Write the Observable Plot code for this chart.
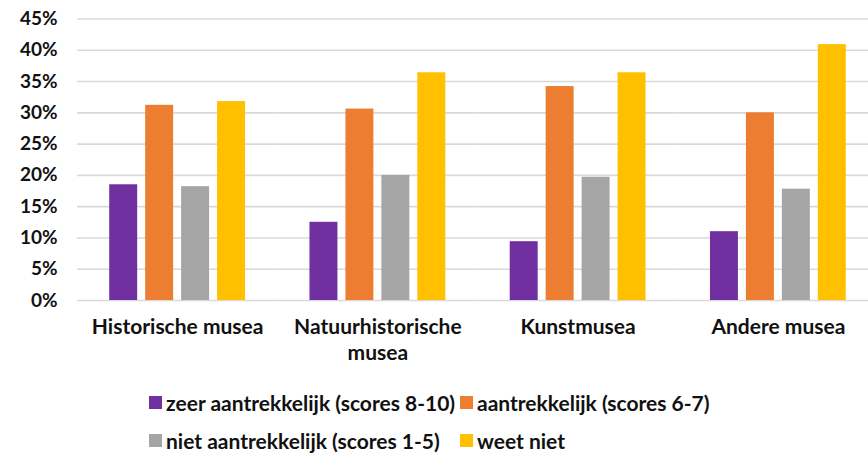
<!DOCTYPE html>
<html>
<head>
<meta charset="utf-8">
<script src="https://cdn.jsdelivr.net/npm/d3@7"></script>
<script src="https://cdn.jsdelivr.net/npm/@observablehq/plot@0.6"></script>
<style>
  body { margin: 0; background: #fff; font-family: Lato, "Open Sans", sans-serif; }
  #chart svg { font-family: Lato, sans-serif; overflow: visible; }
  .legend { margin-top: 13px; margin-left: 149px; display: grid; grid-template-columns: 311px auto; grid-auto-rows: 38px; font-size: 21px; font-weight: bold; color: #111; }
  .legend .item { display: flex; align-items: center; }
  .legend .sw { width: 13px; height: 13px; margin-right: 4px; display: inline-block; }
</style>
</head>
<body>
<div id="chart"></div>
<script>
const categories = ["Historische musea", "Natuurhistorische musea", "Kunstmusea", "Andere musea"];
const tickLabels = ["Historische musea", "Natuurhistorische\nmusea", "Kunstmusea", "Andere musea"];
const series = ["zeer aantrekkelijk (scores 8-10)", "aantrekkelijk (scores 6-7)", "niet aantrekkelijk (scores 1-5)", "weet niet"];
const colors = ["#7030A0", "#ED7D31", "#A5A5A5", "#FFC000"];
const zeerAantrekkelijk = [18.5, 12.5, 9.4, 11.0];
const aantrekkelijk = [31.2, 30.6, 34.2, 30.0];
const nietAantrekkelijk = [18.2, 20.0, 19.7, 17.8];
const weetNiet = [31.8, 36.4, 36.4, 40.9];
const yTicks = [0, 5, 10, 15, 20, 25, 30, 35, 40, 45];

const valuesBySeries = [zeerAantrekkelijk, aantrekkelijk, nietAantrekkelijk, weetNiet];
const data = [];
categories.forEach((c, i) => {
  series.forEach((s, j) => data.push({museum: c, series: s, value: valuesBySeries[j][i]}));
});

const chart = Plot.plot({
  width: 868,
  height: 370,
  marginLeft: 77,
  marginRight: -10,
  marginTop: 18.5,
  marginBottom: 70,
  style: {fontSize: "21px", color: "#111"},
  fx: {domain: categories, padding: 0, round: false},
  x: {domain: series, paddingInner: 0.222, paddingOuter: 0.896, round: false, axis: null},
  y: {domain: [0, 45]},
  color: {domain: series, range: colors},
  marks: [
    Plot.ruleY(yTicks, {stroke: "#d9d9d9", strokeWidth: 1.6}),
    Plot.barY(data, {fx: "museum", x: "series", y: "value", fill: "series"}),
    Plot.axisY({ticks: yTicks, tickSize: 0, tickPadding: 20, tickFormat: d => d + "%", fontWeight: "bold", fontSize: 19, label: null}),
    Plot.axisFx({anchor: "bottom", tickSize: 0, tickPadding: 15, tickFormat: d => tickLabels[categories.indexOf(d)], fontWeight: "bold", fontSize: 21, lineHeight: 1.25, label: null})
  ]
});
document.getElementById("chart").appendChild(chart);

const legend = document.createElement("div");
legend.className = "legend";
series.forEach((s, j) => {
  const item = document.createElement("div");
  item.className = "item";
  const sw = document.createElement("span");
  sw.className = "sw";
  sw.style.background = colors[j];
  item.appendChild(sw);
  item.appendChild(document.createTextNode(s));
  legend.appendChild(item);
});
document.body.appendChild(legend);
</script>
</body>
</html>
